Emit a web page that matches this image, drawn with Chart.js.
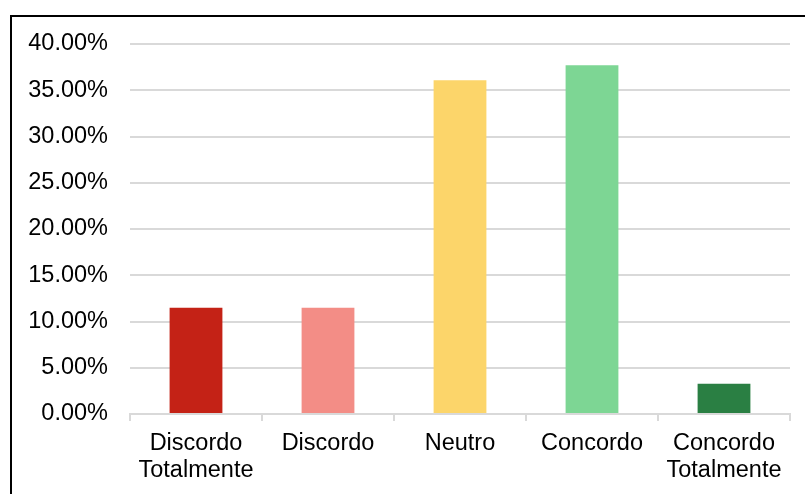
<!DOCTYPE html>
<html>
<head>
<meta charset="utf-8">
<script src="https://cdn.jsdelivr.net/npm/chart.js@4/dist/chart.umd.min.js"></script>
<style>
  html, body { margin: 0; padding: 0; background: #fff; }
  #wrap { position: relative; width: 805px; height: 494px; overflow: hidden; }
  #frame { position: absolute; left: 10px; top: 15px; width: 820px; height: 500px;
           border-left: 2px solid #000; border-top: 2px solid #000; pointer-events: none; }
  canvas { position: absolute; left: 0; top: 0; }
</style>
</head>
<body>
<div id="wrap">
  <canvas id="c" width="805" height="494"></canvas>
  <div id="frame"></div>
</div>
<script>
const categories = [["Discordo", "Totalmente"], "Discordo", "Neutro", "Concordo", ["Concordo", "Totalmente"]];
const values = [11.48, 11.48, 36.07, 37.70, 3.28];
const barColors = ["#C42216", "#F38D86", "#FCD56A", "#7DD694", "#2A7F43"];
const yTicks = [0, 5, 10, 15, 20, 25, 30, 35, 40];

const font = { family: "'Liberation Sans', Arial, sans-serif", size: 23.5, lineHeight: 1.15 };

new Chart(document.getElementById('c'), {
  type: 'bar',
  data: {
    labels: categories,
    datasets: [{
      data: values,
      backgroundColor: barColors,
      borderWidth: 0,
      barPercentage: 0.4,
      categoryPercentage: 1.0
    }]
  },
  options: {
    responsive: false,
    animation: false,
    layout: { padding: { left: 0, right: 15, top: 44, bottom: 0 } },
    plugins: { legend: { display: false }, tooltip: { enabled: false } },
    scales: {
      x: {
        grid: { drawOnChartArea: false, drawTicks: true, tickLength: 7, color: '#d9d9d9', lineWidth: 2 },
        border: { display: true, color: '#d9d9d9', width: 2 },
        ticks: { color: '#000', font: font, padding: 9, maxRotation: 0, autoSkip: false },
        afterFit: (s) => { s.height = 80; }
      },
      y: {
        min: 0, max: 40,
        afterBuildTicks: (s) => { s.ticks = yTicks.map(v => ({ value: v })); },
        grid: { color: '#d9d9d9', lineWidth: 2, drawTicks: false },
        border: { display: false },
        ticks: { color: '#000', font: font, padding: 22, callback: (v) => v.toFixed(2) + '%' },
        afterFit: (s) => { s.width = 130; }
      }
    }
  }
});
</script>
</body>
</html>
